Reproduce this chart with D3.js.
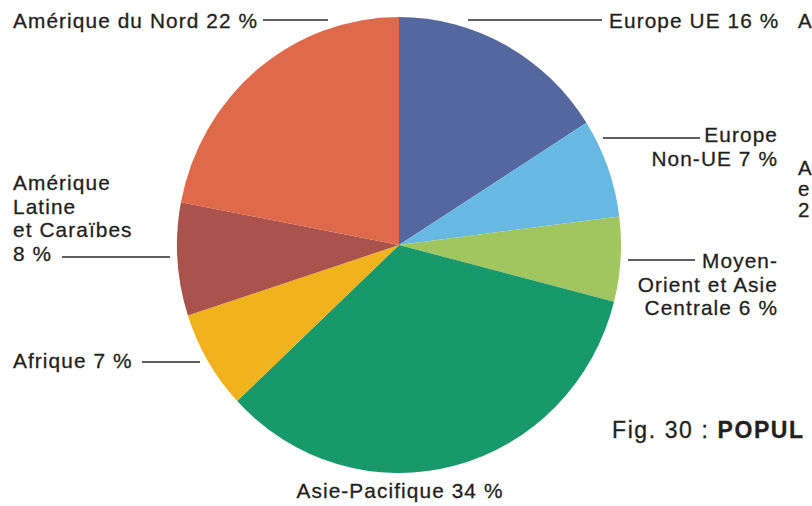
<!DOCTYPE html>
<html lang="fr">
<head>
<meta charset="utf-8">
<script src="https://cdn.jsdelivr.net/npm/d3@7"></script>
<style>
  html, body { margin: 0; padding: 0; background: #fff; overflow: hidden; }
  svg { display: block; }
  text { font-family: "Liberation Sans", Arial, Helvetica, sans-serif; fill: #231f20;
         stroke: #231f20; stroke-width: 0.3px; letter-spacing: 1.1px; }
</style>
</head>
<body>
<svg id="chart" width="812" height="506"></svg>
<script>
// Regions, clockwise from 12 o'clock, with their share (%)
const regions = [
  "Europe UE",
  "Europe Non-UE",
  "Moyen-Orient et Asie Centrale",
  "Asie-Pacifique",
  "Afrique",
  "Amérique Latine et Caraïbes",
  "Amérique du Nord"
];
const shares = [16, 7, 6, 34, 7, 8, 22];
const colors = ["#55679f", "#67b9e4", "#a2c65f", "#17996b", "#f0b31d", "#aa524c", "#df6a4b"];

// Label text lines per region (the value is appended from `shares`)
const labelLines = [
  ["Europe UE {v} %"],
  ["Europe", "Non-UE {v} %"],
  ["Moyen-", "Orient et Asie", "Centrale {v} %"],
  ["Asie-Pacifique {v} %"],
  ["Afrique {v} %"],
  ["Amérique", "Latine", "et Caraïbes", "{v} %"],
  ["Amérique du Nord {v} %"]
];

// Label placement: anchor point, alignment, and leader line
const labelLayout = [
  { x: 609, y: 28, anchor: "start", line: [468, 20, 602, 20] },
  { x: 778, y: 142, anchor: "end", line: [603, 138, 700, 138] },
  { x: 778, y: 268, anchor: "end", line: [628, 260, 695, 260] },
  { x: 400, y: 498, anchor: "middle", line: null },
  { x: 13, y: 368, anchor: "start", line: [142, 362, 200, 362] },
  { x: 13, y: 190, anchor: "start", line: [62, 257, 170, 257] },
  { x: 13, y: 28, anchor: "start", line: [263, 20, 328, 20] }
];

const svg = d3.select("#chart");
const cx = 399, cy = 245, r = 222, yStretch = 1.027;

const pie = d3.pie().sort(null).value(d => d)(shares);
const arc = d3.arc().innerRadius(0).outerRadius(r);

svg.append("g")
  .attr("transform", `translate(${cx},${cy}) scale(1,${yStretch})`)
  .selectAll("path")
  .data(pie)
  .join("path")
  .attr("d", arc)
  .attr("fill", (d, i) => colors[i]);

// Leader lines
svg.append("g")
  .selectAll("line")
  .data(labelLayout.filter(l => l.line))
  .join("line")
  .attr("x1", d => d.line[0]).attr("y1", d => d.line[1])
  .attr("x2", d => d.line[2]).attr("y2", d => d.line[3])
  .attr("stroke", "#2b2b2b")
  .attr("stroke-width", 1.6);

// Labels
const lineHeight = 23.5;
labelLines.forEach((lines, i) => {
  const lay = labelLayout[i];
  const t = svg.append("text")
    .attr("x", lay.x).attr("y", lay.y)
    .attr("text-anchor", lay.anchor)
    .attr("font-size", 20.8);
  lines.forEach((ln, k) => {
    t.append("tspan")
      .attr("x", lay.x)
      .attr("dy", k === 0 ? 0 : lineHeight)
      .text(ln.replace("{v}", shares[i]));
  });
});

// Neighbouring page content at the right edge
svg.append("text").attr("x", 798).attr("y", 28).attr("font-size", 20.5).text("A");
const side = svg.append("text").attr("x", 798).attr("y", 175).attr("font-size", 20.5);
["A", "e", "2"].forEach((s, k) => side.append("tspan").attr("x", 798).attr("dy", k ? 21 : 0).text(s));

const fig = svg.append("text").attr("x", 612).attr("y", 438).attr("font-size", 23)
  .style("letter-spacing", "1.6px");
fig.append("tspan").text("Fig. 30 : ");
fig.append("tspan").attr("font-weight", "bold").text("POPUL");
</script>
</body>
</html>
